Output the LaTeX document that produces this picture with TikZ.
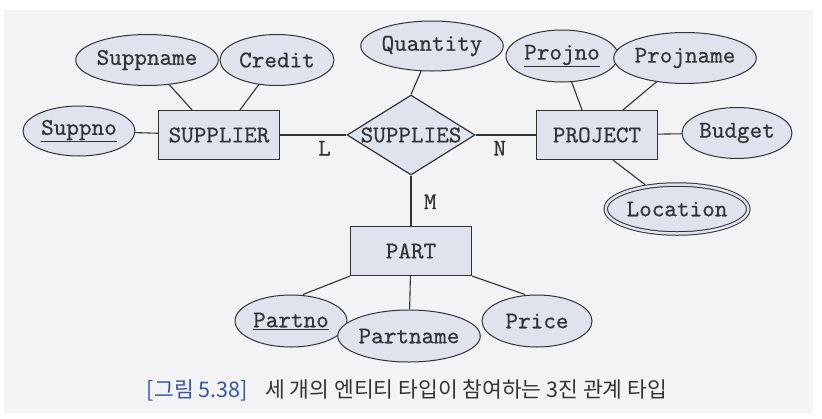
\documentclass[tikz,border=0pt]{standalone}
\usepackage{fontspec}
\newfontfamily\krfont{Noto Sans CJK KR}
\newfontfamily\ertt{lmmono10-regular.otf}[FakeBold=0.45]
\usetikzlibrary{shapes.geometric}
\definecolor{bgpanel}{RGB}{243,243,246}
\definecolor{boxfill}{RGB}{222,227,238}
\definecolor{inkgray}{RGB}{50,50,55}
\definecolor{capblue}{RGB}{52,84,168}
\tikzset{
	entity/.style={draw=inkgray, fill=boxfill, line width=1.2pt, minimum width=121pt, minimum height=49pt, inner sep=0pt},
	attr/.style={ellipse, draw=inkgray, fill=boxfill, line width=1pt, inner sep=0pt, minimum height=51pt},
	multiattr/.style={attr, double=boxfill, double distance=2.5pt, outer sep=2.5pt},
	rel/.style={diamond, draw=inkgray, fill=boxfill, line width=1.2pt, aspect=1.6, minimum width=128pt, minimum height=80pt, inner sep=0pt},
	card/.style={text=inkgray},
	conn/.style={inkgray, line width=1.1pt},
}
\begin{document}
\begin{tikzpicture}[x=1pt, y=-1pt, font=\ertt\fontsize{24}{26}\selectfont, text=inkgray]
		% Hintergrund
		\useasboundingbox (0,0) rectangle (822,418);
		\fill[bgpanel] (4,10) rectangle (813,413);
		% Entitaeten und Beziehung
		\node[entity] (sup) at (219,135) {SUPPLIER};
		\node[rel] (supplies) at (411,135) {SUPPLIES};
		\node[entity] (proj) at (597,135) {PROJECT};
		\node[entity] (part) at (411,251) {PART};
		% Attribute
		\node[attr, minimum width=112pt, minimum height=50pt] (suppno) at (79,131) {\underline{Suppno}};
		\node[attr, minimum width=105pt] (suppname) at (147,60) {Suppname};
		\node[attr, minimum width=114pt] (credit) at (277,60) {Credit};
		\node[attr, minimum width=114pt, minimum height=50pt] (qty) at (432,46) {Quantity};
		\node[attr, minimum width=112pt, minimum height=52pt] (projno) at (562,56) {\underline{Projno}};
		\node[attr, minimum width=112pt] (projname) at (685,58) {Projname};
		\node[attr, minimum width=110pt] (budget) at (737,133) {Budget};
		\node[multiattr, minimum width=119pt, minimum height=49pt] (location) at (677,209) {Location};
		\node[attr, minimum width=112pt, minimum height=52pt] (partno) at (291,321) {\underline{Partno}};
		\node[attr, minimum width=108pt, minimum height=52pt] (partname) at (409,336) {Partname};
		\node[attr, minimum width=110pt, minimum height=52pt] (price) at (537,321) {Price};
		% Verbindungen
		\draw[conn] (suppno) -- (sup);
		\draw[conn] (suppname) -- ([xshift=-27pt]sup.north);
		\draw[conn] (credit) -- ([xshift=21pt]sup.north);
		\draw[conn] (sup) -- node[card, pos=0.67, below=2pt] (cardL) {L} (supplies);
		\draw[conn] (supplies) -- node[card, pos=0.4, below=2pt] (cardN) {N} (proj);
		\draw[conn] (supplies) -- node[card, pos=0.52, right=9pt] (cardM) {M} (part);
		\draw[conn] (qty) -- (supplies.north);
		\draw[conn] (projno) -- ([xshift=-15pt]proj.north);
		\draw[conn] (projname) -- ([xshift=26pt]proj.north);
		\draw[conn] (proj) -- (budget);
		\draw[conn] ([xshift=16pt]proj.south) -- (location);
		\draw[conn] (part.south west) -- ([xshift=12pt]partno.north);
		\draw[conn] (part) -- (partname);
		\draw[conn] (part.south east) -- ([xshift=-12pt]price.north);
		% Bildunterschrift
		\node[font=\krfont\fontsize{21.5}{24}\selectfont, text=black!80] (caption) at (407,390)
			{\textcolor{capblue}{[그림 5.38]}\hspace{0.6em} 세 개의 엔티티 타입이 참여하는 3진 관계 타입};
\end{tikzpicture}
\end{document}
